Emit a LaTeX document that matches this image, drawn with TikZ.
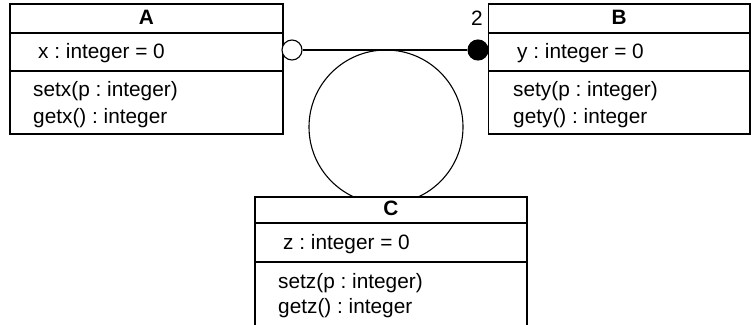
\documentclass[tikz,border=0pt]{standalone}
\usepackage{fontspec}
\setmainfont{Liberation Sans}
\frenchspacing
\begin{document}
\begin{tikzpicture}[x=1pt,y=-1pt,
  box/.style={draw,line width=1.2pt,fill=white},
  sep/.style={line width=1.2pt},
  lbl/.style={anchor=base west,inner sep=0pt,font=\fontsize{20.8}{24}\selectfont},
  hdr/.style={anchor=base,inner sep=0pt,font=\fontsize{20.8}{24}\selectfont\bfseries},
  assoc/.style={line width=1.1pt},
  endopen/.style={circle,draw,line width=1.1pt,fill=white,minimum size=20pt,inner sep=0pt},
  endfull/.style={circle,draw,line width=1.1pt,fill=black,minimum size=20pt,inner sep=0pt}]
\useasboundingbox (0,0) rectangle (751,324);
\clip (0,0) rectangle (751,324);
% big circle (drawn first, covered by C)
\node[circle,draw,line width=1.1pt,minimum size=154pt,inner sep=0pt] (loop) at (386,127) {};
% Box A
\draw[box] (10,4) rectangle (283,134);
\draw[sep] (10,33) -- (283,33);
\draw[sep] (10,71) -- (283,71);
\node[hdr] (Ah) at (146.5,24) {A};
\node[lbl] (Aa) at (38,58) {x : integer = 0};
\node[lbl] (Am1) at (33,96) {setx(p : integer)};
\node[lbl] (Am2) at (33,123) {getx() : integer};
% Box B
\draw[box] (488.5,4) rectangle (750,134);
\draw[sep] (488.5,33) -- (750,33);
\draw[sep] (488.5,71) -- (750,71);
\node[hdr] (Bh) at (619,24) {B};
\node[lbl] (Ba) at (517,58) {y : integer = 0};
\node[lbl] (Bm1) at (513,96) {sety(p : integer)};
\node[lbl] (Bm2) at (513,123) {gety() : integer};
% Box C
\draw[box] (255,197) rectangle (527,340);
\draw[sep] (255,223) -- (527,223);
\draw[sep] (255,262) -- (527,262);
\node[hdr] (Ch) at (391,215) {C};
\node[lbl] (Ca) at (283,249) {z : integer = 0};
\node[lbl] (Cm1) at (278,288) {setz(p : integer)};
\node[lbl] (Cm2) at (278,313) {getz() : integer};
% association
\node[endopen] (oe) at (292,50) {};
\node[endfull] (fe) at (478,50) {};
\draw[assoc] (oe) -- (fe);
\node[anchor=base,inner sep=0pt,font=\fontsize{20.8}{24}\selectfont] (mult) at (477,25) {2};
\end{tikzpicture}
\end{document}
